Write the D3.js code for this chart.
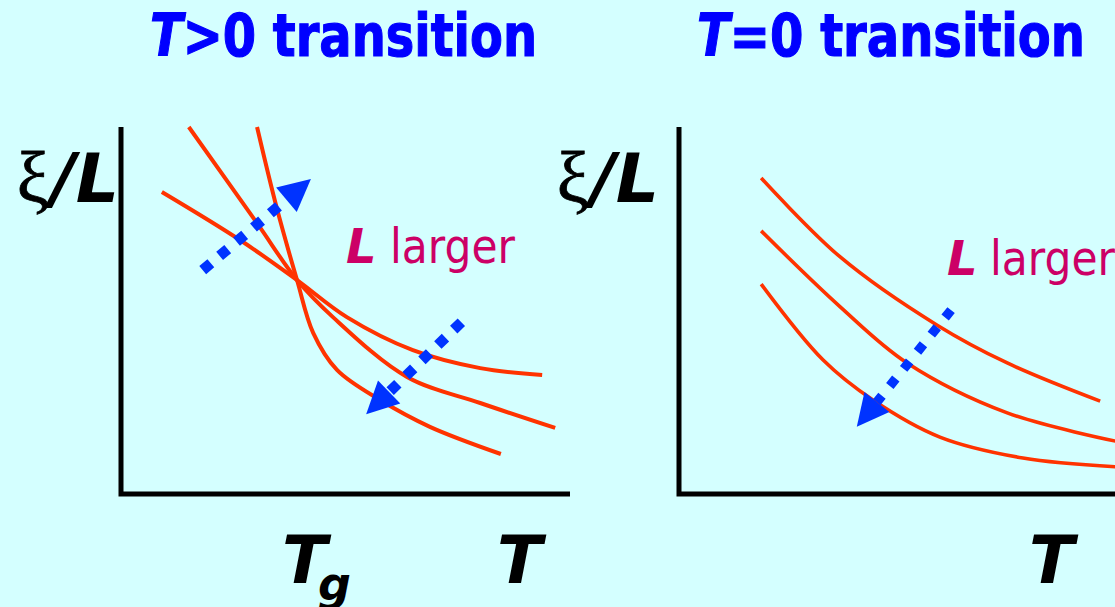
<!DOCTYPE html>
<html>
<head>
<meta charset="utf-8">
<script src="https://cdn.jsdelivr.net/npm/d3@7"></script>
<style>
  html, body { margin: 0; padding: 0; background: #D4FFFF; overflow: hidden; }
</style>
</head>
<body>
<script>
// Schematic ξ/L versus T for three system sizes (small, medium, large L).
// Values are in arbitrary units: T and ξ/L both run 0..10 on each panel.

// T > 0 transition: curves cross at T = Tg
const leftSmallL  = [[0.91, 8.23], [2.65, 6.92], [3.92, 5.83], [5.03, 4.82], [6.50, 3.92], [8.00, 3.43], [9.38, 3.24]];
const leftMidL    = [[1.51, 10.0], [3.03, 7.38], [3.92, 5.83], [4.72, 4.82], [6.37, 3.19], [8.00, 2.48], [9.67, 1.80]];
const leftLargeL  = [[3.03, 10.0], [3.47, 7.79], [3.92, 5.83], [4.28, 4.39], [4.81, 3.38], [5.77, 2.56], [6.88, 1.83], [8.46, 1.09]];
const Tg = 3.92;

// T = 0 transition: curves never cross
const rightSmallL = [[1.83, 8.61], [3.59, 6.46], [5.75, 4.60], [7.31, 3.57], [9.38, 2.53]];
const rightMidL   = [[1.83, 7.17], [3.59, 5.10], [5.08, 3.57], [7.31, 2.21], [9.73, 1.44]];
const rightLargeL = [[1.83, 5.72], [3.21, 3.65], [4.32, 2.56], [5.81, 1.55], [7.66, 0.98], [9.73, 0.74]];

// "L larger" arrows: [fromT, fromXi, toT, toXi]
const leftArrows  = [[1.82, 6.10, 4.23, 8.58], [7.58, 4.68, 5.46, 2.17]];
const rightArrows = [[6.06, 5.01, 3.96, 1.83]];

// Text
const titleParts = [["T", ">0 transition"], ["T", "=0 transition"]];
const yLabelParts = ["ξ", "/L"];
const sizeLabelParts = ["L", "larger"];
const xLabel = "T";
const tgLabelParts = ["T", "g"];

const W = 1115, H = 607;
const COLORS = { bg: "#D4FFFF", title: "#0000FF", curve: "#FF3300", arrow: "#0033FF", size: "#CC0066", axis: "#000000" };
const SANS = "'DejaVu Sans', Verdana, sans-serif";

const svg = d3.select("body").append("svg")
  .attr("width", W).attr("height", H)
  .attr("viewBox", `0 0 ${W} ${H}`);

svg.append("rect").attr("width", W).attr("height", H).attr("fill", COLORS.bg);

const panels = [
  {
    x0: 121, x1: 570, curves: [leftSmallL, leftMidL, leftLargeL], arrows: leftArrows,
    curveWidth: 4, dot: 10.6, gap: 11.5,
    title: titleParts[0], titleX: 150, titleLen: 387,
    yLabelEnd: 119, sizeX: 346, sizeY: 263, larger: 390,
    xLabelX: 497, showTg: true
  },
  {
    x0: 679, x1: 1128, curves: [rightSmallL, rightMidL, rightLargeL], arrows: rightArrows,
    curveWidth: 3.6, dot: 9.5, gap: 12.5,
    title: titleParts[1], titleX: 697, titleLen: 388,
    yLabelEnd: 659, sizeX: 947, sizeY: 275, larger: 990,
    xLabelX: 1029, showTg: false
  }
];

panels.forEach(p => {
  const x = d3.scaleLinear().domain([0, 10]).range([p.x0, p.x1]);
  const y = d3.scaleLinear().domain([0, 10]).range([494, 127]);
  const g = svg.append("g");

  // title
  const t = g.append("text")
    .attr("x", p.titleX).attr("y", 56)
    .attr("font-family", SANS).attr("font-weight", "bold").attr("font-size", 58)
    .attr("fill", COLORS.title).attr("stroke", COLORS.title).attr("stroke-width", 1.2)
    .attr("textLength", p.titleLen).attr("lengthAdjust", "spacingAndGlyphs");
  t.append("tspan").attr("font-style", "italic").text(p.title[0]);
  t.append("tspan").text(p.title[1]);

  // axes
  g.append("path")
    .attr("d", `M${x(0)},${y(10)} L${x(0)},${y(0)} L${x(10)},${y(0)}`)
    .attr("fill", "none").attr("stroke", COLORS.axis).attr("stroke-width", 5)
    .attr("stroke-linejoin", "miter");

  // curves
  const line = d3.line()
    .x(d => x(d[0])).y(d => y(d[1]))
    .curve(d3.curveCatmullRom.alpha(0.5));
  g.selectAll("path.curve").data(p.curves).join("path")
    .attr("class", "curve")
    .attr("d", line)
    .attr("fill", "none").attr("stroke", COLORS.curve)
    .attr("stroke-width", p.curveWidth).attr("stroke-linecap", "butt");

  // dotted arrows
  p.arrows.forEach(a => {
    const sx = x(a[0]), sy = y(a[1]), ex = x(a[2]), ey = y(a[3]);
    const len = Math.hypot(ex - sx, ey - sy);
    const ux = (ex - sx) / len, uy = (ey - sy) / len;
    const headL = 32, headW = 32;
    const bx = ex - ux * headL, by = ey - uy * headL;
    g.append("line")
      .attr("x1", sx).attr("y1", sy).attr("x2", bx).attr("y2", by)
      .attr("stroke", COLORS.arrow).attr("stroke-width", p.dot)
      .attr("stroke-dasharray", `${p.dot} ${p.gap}`);
    const px = -uy, py = ux;
    g.append("path")
      .attr("d", `M${ex},${ey} L${bx + px * headW / 2},${by + py * headW / 2} L${bx - px * headW / 2},${by - py * headW / 2} Z`)
      .attr("fill", COLORS.arrow);
  });

  // y label ξ/L
  const yl = g.append("text")
    .attr("x", p.yLabelEnd).attr("y", 202).attr("text-anchor", "end").attr("fill", "#000");
  yl.append("tspan").attr("font-family", "'Liberation Serif', 'DejaVu Serif', serif")
    .attr("font-size", 72).attr("stroke", "#000").attr("stroke-width", 0.8).text(yLabelParts[0]);
  yl.append("tspan").attr("font-family", SANS).attr("font-weight", "bold")
    .attr("font-style", "italic").attr("font-size", 68).attr("dx", 2).text(yLabelParts[1]);

  // "L larger"
  g.append("text")
    .attr("x", p.sizeX).attr("y", p.sizeY)
    .attr("font-family", SANS).attr("font-weight", "bold").attr("font-style", "italic")
    .attr("font-size", 48).attr("fill", COLORS.size).text(sizeLabelParts[0]);
  g.append("text")
    .attr("x", p.larger).attr("y", p.sizeY)
    .attr("font-family", SANS).attr("font-size", 48).attr("fill", COLORS.size)
    .attr("textLength", 125).attr("lengthAdjust", "spacingAndGlyphs")
    .text(sizeLabelParts[1]);

  // x label T
  g.append("text")
    .attr("x", p.xLabelX).attr("y", 583)
    .attr("font-family", SANS).attr("font-weight", "bold").attr("font-style", "italic")
    .attr("font-size", 66).attr("fill", "#000").text(xLabel);

  // Tg marker label
  if (p.showTg) {
    const tx = x(Tg);
    g.append("text")
      .attr("x", tx - 15).attr("y", 583)
      .attr("font-family", SANS).attr("font-weight", "bold").attr("font-style", "italic")
      .attr("font-size", 66).attr("fill", "#000").text(tgLabelParts[0]);
    g.append("text")
      .attr("x", tx + 21).attr("y", 600)
      .attr("font-family", SANS).attr("font-weight", "bold").attr("font-style", "italic")
      .attr("font-size", 46).attr("fill", "#000").text(tgLabelParts[1]);
  }
});
</script>
</body>
</html>
